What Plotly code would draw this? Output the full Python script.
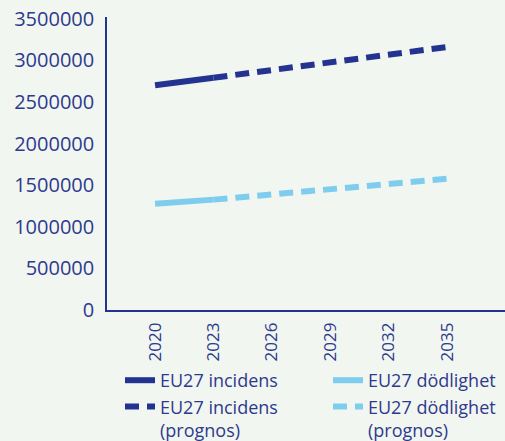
import plotly.graph_objects as go

# Data
years_hist = [2020, 2023]
inc_hist = [2700000, 2790000]
mort_hist = [1276000, 1326000]

years_proj = [2023, 2026, 2029, 2032, 2035]
inc_proj = [2790000, 2880000, 2970000, 3065000, 3160000]
mort_proj = [1326000, 1389000, 1452000, 1515000, 1576000]

tick_years = [2020, 2023, 2026, 2029, 2032, 2035]
y_ticks = [0, 500000, 1000000, 1500000, 2000000, 2500000, 3000000, 3500000]

NAVY = "#243390"
LIGHT = "#7fcdee"
TEXT = "#2d3a8e"
BG = "#f2f6f0"
FONT = "Open Sans"

fig = go.Figure()
fig.add_trace(go.Scatter(x=years_hist, y=inc_hist, mode="lines", name="EU27 incidens",
                         line=dict(color=NAVY, width=6), legend="legend"))
fig.add_trace(go.Scatter(x=years_proj, y=inc_proj, mode="lines", name="EU27 incidens<br>(prognos)",
                         line=dict(color=NAVY, width=6, dash="14px,8px"), legend="legend"))
fig.add_trace(go.Scatter(x=years_hist, y=mort_hist, mode="lines", name="EU27 dödlighet",
                         line=dict(color=LIGHT, width=6), legend="legend2"))
fig.add_trace(go.Scatter(x=years_proj, y=mort_proj, mode="lines", name="EU27 dödlighet<br>(prognos)",
                         line=dict(color=LIGHT, width=6, dash="14px,8px"), legend="legend2"))

legend_common = dict(
    orientation="v", xref="container", yref="container", xanchor="left", yanchor="top",
    font=dict(family=FONT, size=18, color=TEXT), bgcolor="rgba(0,0,0,0)",
    valign="top", tracegroupgap=0, itemwidth=30, traceorder="normal",
)

fig.update_layout(
    width=505, height=441,
    margin=dict(l=107, r=0, t=17, b=131, autoexpand=False),
    paper_bgcolor=BG, plot_bgcolor=BG,
    font=dict(family=FONT, color=TEXT),
    legend=dict(x=120 / 505, y=1 - 362 / 441, **legend_common),
    legend2=dict(x=328 / 505, y=1 - 362 / 441, **legend_common),
    xaxis=dict(
        range=[2017.53, 2037.98], tickmode="array", tickvals=tick_years,
        ticktext=[str(v) for v in tick_years], tickangle=-90,
        showgrid=False, zeroline=False, showline=True, linecolor=NAVY, linewidth=1.5,
        ticks="", tickfont=dict(family=FONT, size=17, color=TEXT), ticklabelstandoff=4,
        automargin=False,
    ),
    yaxis=dict(
        range=[0, 3520000], tickmode="array", tickvals=y_ticks,
        ticktext=[str(v) for v in y_ticks],
        showgrid=False, zeroline=False, showline=True, linecolor=NAVY, linewidth=1.5,
        ticks="", tickfont=dict(family=FONT, size=20, color=TEXT), ticklabelstandoff=7,
        automargin=False,
    ),
)

fig.write_html(
    "out.html",
    config={"displayModeBar": False},
    post_script="document.body.style.margin='0';document.body.style.overflow='hidden';"
                "document.body.style.background='" + BG + "';",
)
